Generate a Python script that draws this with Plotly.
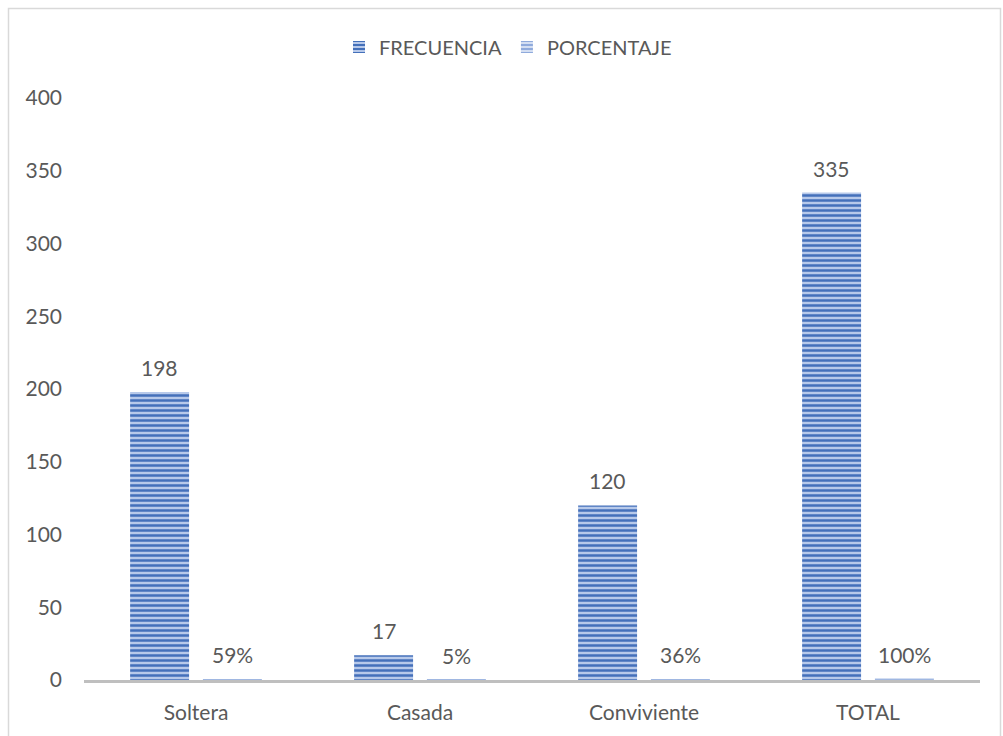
import plotly.graph_objects as go

categories = ["Soltera", "Casada", "Conviviente", "TOTAL"]
frecuencia = [198, 17, 120, 335]
porcentaje = [0.59, 0.05, 0.36, 1.00]
y_ticks = [0, 50, 100, 150, 200, 250, 300, 350, 400]

W, H = 1003, 736
L, R, T, B = 84, 23, 98, 56
pw, ph = W - L - R, H - T - B

BARGAP, GROUPGAP = 0.35, 0.19

def px_x(p):
    return (p - L) / pw

def px_y(p):
    return (H - B - p) / ph

font = dict(family="Lato, Open Sans, sans-serif", size=21, color="#595959")

fig = go.Figure()
fig.add_trace(go.Bar(
    name="FRECUENCIA", x=categories, y=frecuencia,
    marker=dict(color="#A9BEE4", line=dict(width=0),
                pattern=dict(shape="-", fgcolor="#4470BA", bgcolor="#B7C9EA",
                             size=5, solidity=0.5, fillmode="replace")),
))
fig.add_trace(go.Bar(
    name="PORCENTAJE", x=categories, y=porcentaje,
    marker=dict(color="#C5D3ED", line=dict(width=0),
                pattern=dict(shape="-", fgcolor="#8FAADC", bgcolor="#D3DEF2",
                             size=5, solidity=0.5, fillmode="replace")),
))

# data labels placed through the axis scales, at each bar's grouped slot
slot = (1 - BARGAP) / 2
annotations = []
for i, (f, p) in enumerate(zip(frecuencia, porcentaje)):
    annotations.append(dict(x=i - slot / 2, y=f, xref="x", yref="y", text=str(f),
                            showarrow=False, yanchor="bottom", yshift=10, font=font))
    annotations.append(dict(x=i + slot / 2, y=p, xref="x", yref="y",
                            text=f"{round(p * 100)}%",
                            showarrow=False, yanchor="bottom", yshift=10, font=font))

fig.update_layout(
    width=W, height=H,
    margin=dict(l=L, r=R, t=T, b=B),
    paper_bgcolor="white", plot_bgcolor="white",
    barmode="group", bargap=BARGAP, bargroupgap=GROUPGAP,
    font=font,
    showlegend=True,
    legend=dict(orientation="h", x=0.5 - 24 / pw, xanchor="center",
                y=px_y(47), yanchor="middle",
                font=dict(family=font["family"], size=20, color="#595959"),
                traceorder="normal"),
    xaxis=dict(showgrid=False, showline=True, linecolor="#BFBFBF", linewidth=3,
               ticks="", tickfont=font, ticklabelstandoff=12, zeroline=False),
    yaxis=dict(range=[0, 400], tickvals=y_ticks, showgrid=False, showline=False,
               zeroline=False, ticks="", tickfont=font, ticklabelstandoff=21),
    annotations=annotations,
    shapes=[dict(type="rect", xref="paper", yref="paper",
                 x0=px_x(8.5), x1=px_x(1000.5), y0=px_y(745), y1=px_y(8.5),
                 line=dict(color="#D9D9D9", width=1.5), fillcolor="rgba(0,0,0,0)",
                 layer="below")],
)

fig.write_html("out.html")
